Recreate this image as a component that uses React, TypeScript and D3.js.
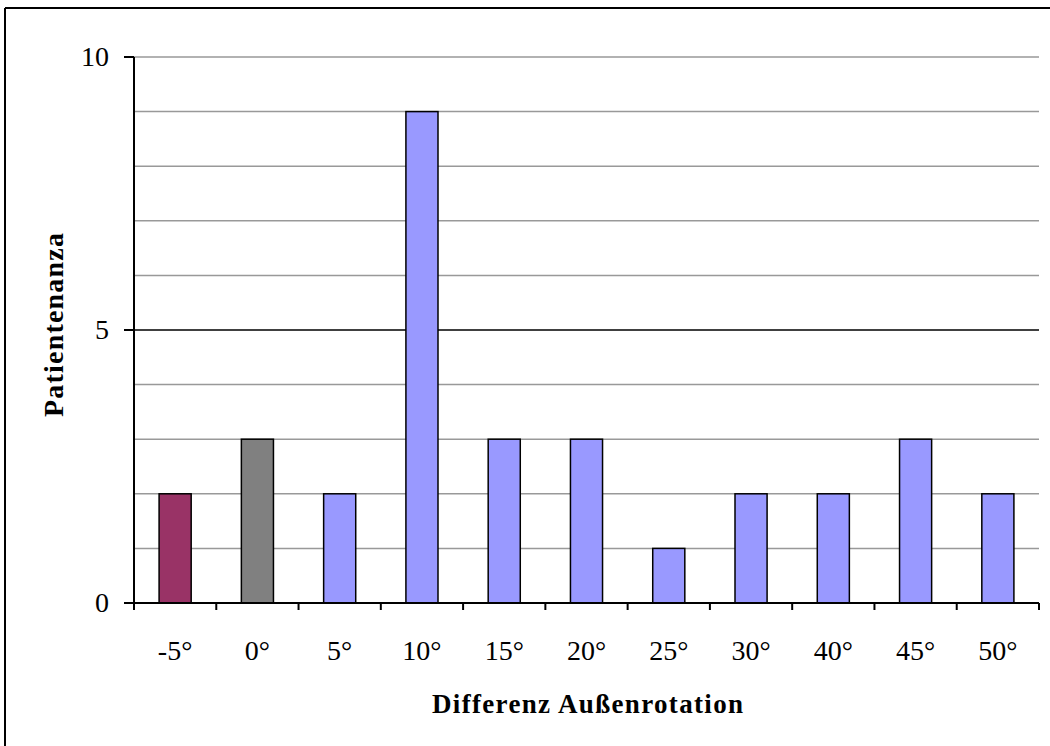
import React from "react";
import * as d3 from "d3";

// Distribution of external-rotation difference
const categories: string[] = ["-5°", "0°", "5°", "10°", "15°", "20°", "25°", "30°", "40°", "45°", "50°"];
const patientCounts: number[] = [2, 3, 2, 9, 3, 3, 1, 2, 2, 3, 2];
const barColors: string[] = ["#993366", "#808080", "#9999FF", "#9999FF", "#9999FF", "#9999FF", "#9999FF", "#9999FF", "#9999FF", "#9999FF", "#9999FF"];
const yTickLabels: number[] = [0, 5, 10];
const gridValues: number[] = [1, 2, 3, 4, 5, 6, 7, 8, 9, 10];

const W = 1050;
const H = 746;
const plot = { left: 134, right: 1039, top: 57, bottom: 603 };
const serif = "'Liberation Serif', 'Times New Roman', serif";

export default function App() {
  const x = d3
    .scaleBand<string>()
    .domain(categories)
    .range([plot.left, plot.right])
    .paddingInner(0.61)
    .paddingOuter(0.305);
  const xBand = d3.scaleBand<string>().domain(categories).range([plot.left, plot.right]);
  const y = d3.scaleLinear().domain([0, 10]).range([plot.bottom, plot.top]);

  const boundaries = d3.range(categories.length + 1).map((i) => plot.left + i * xBand.step());

  return (
    <svg
      width={W}
      height={H}
      style={{ position: "absolute", left: 0, top: 0, background: "#fff" }}
      fontFamily={serif}
    >
      <rect x={0} y={0} width={W} height={H} fill="#fff" />
      {/* outer frame */}
      <line x1={5} y1={8} x2={W} y2={8} stroke="#000" strokeWidth={2} />
      <line x1={5} y1={8} x2={5} y2={H} stroke="#000" strokeWidth={2} />

      {/* grid */}
      {gridValues.map((v) => (
        <line
          key={v}
          x1={plot.left}
          x2={plot.right}
          y1={y(v)}
          y2={y(v)}
          stroke={v === 5 ? "#000" : "#999"}
          strokeWidth={1.5}
        />
      ))}

      {/* bars */}
      {categories.map((c, i) => (
        <rect
          key={c}
          x={x(c)}
          y={y(patientCounts[i])}
          width={x.bandwidth()}
          height={y(0) - y(patientCounts[i])}
          fill={barColors[i]}
          stroke="#000"
          strokeWidth={1.5}
        />
      ))}

      {/* axes */}
      <line x1={plot.left} x2={plot.left} y1={plot.top} y2={plot.bottom} stroke="#000" strokeWidth={2} />
      <line x1={plot.left} x2={plot.right} y1={plot.bottom} y2={plot.bottom} stroke="#000" strokeWidth={2} />
      {yTickLabels.map((v) => (
        <g key={v}>
          <line x1={plot.left - 10} x2={plot.left} y1={y(v)} y2={y(v)} stroke="#000" strokeWidth={2} />
          <text x={plot.left - 25} y={y(v) + 9} textAnchor="end" fontSize={28} fill="#000">
            {v}
          </text>
        </g>
      ))}
      {boundaries.map((bx, i) => (
        <line key={i} x1={bx} x2={bx} y1={plot.bottom} y2={plot.bottom + 7} stroke="#000" strokeWidth={2} />
      ))}
      {categories.map((c) => (
        <text
          key={c}
          x={(xBand(c) as number) + xBand.bandwidth() / 2}
          y={660}
          textAnchor="middle"
          fontSize={28}
          fill="#000"
        >
          {c}
        </text>
      ))}

      {/* axis titles */}
      <text
        x={587.5}
        y={713}
        textAnchor="middle"
        fontSize={27}
        fontWeight="bold"
        fill="#000"
        textLength={311}
        lengthAdjust="spacing"
      >
        Differenz Außenrotation
      </text>
      <text
        transform={`translate(63,325) rotate(-90)`}
        textAnchor="middle"
        fontSize={28}
        fontWeight="bold"
        fill="#000"
        textLength={184}
        lengthAdjust="spacing"
      >
        Patientenanza
      </text>
    </svg>
  );
}
